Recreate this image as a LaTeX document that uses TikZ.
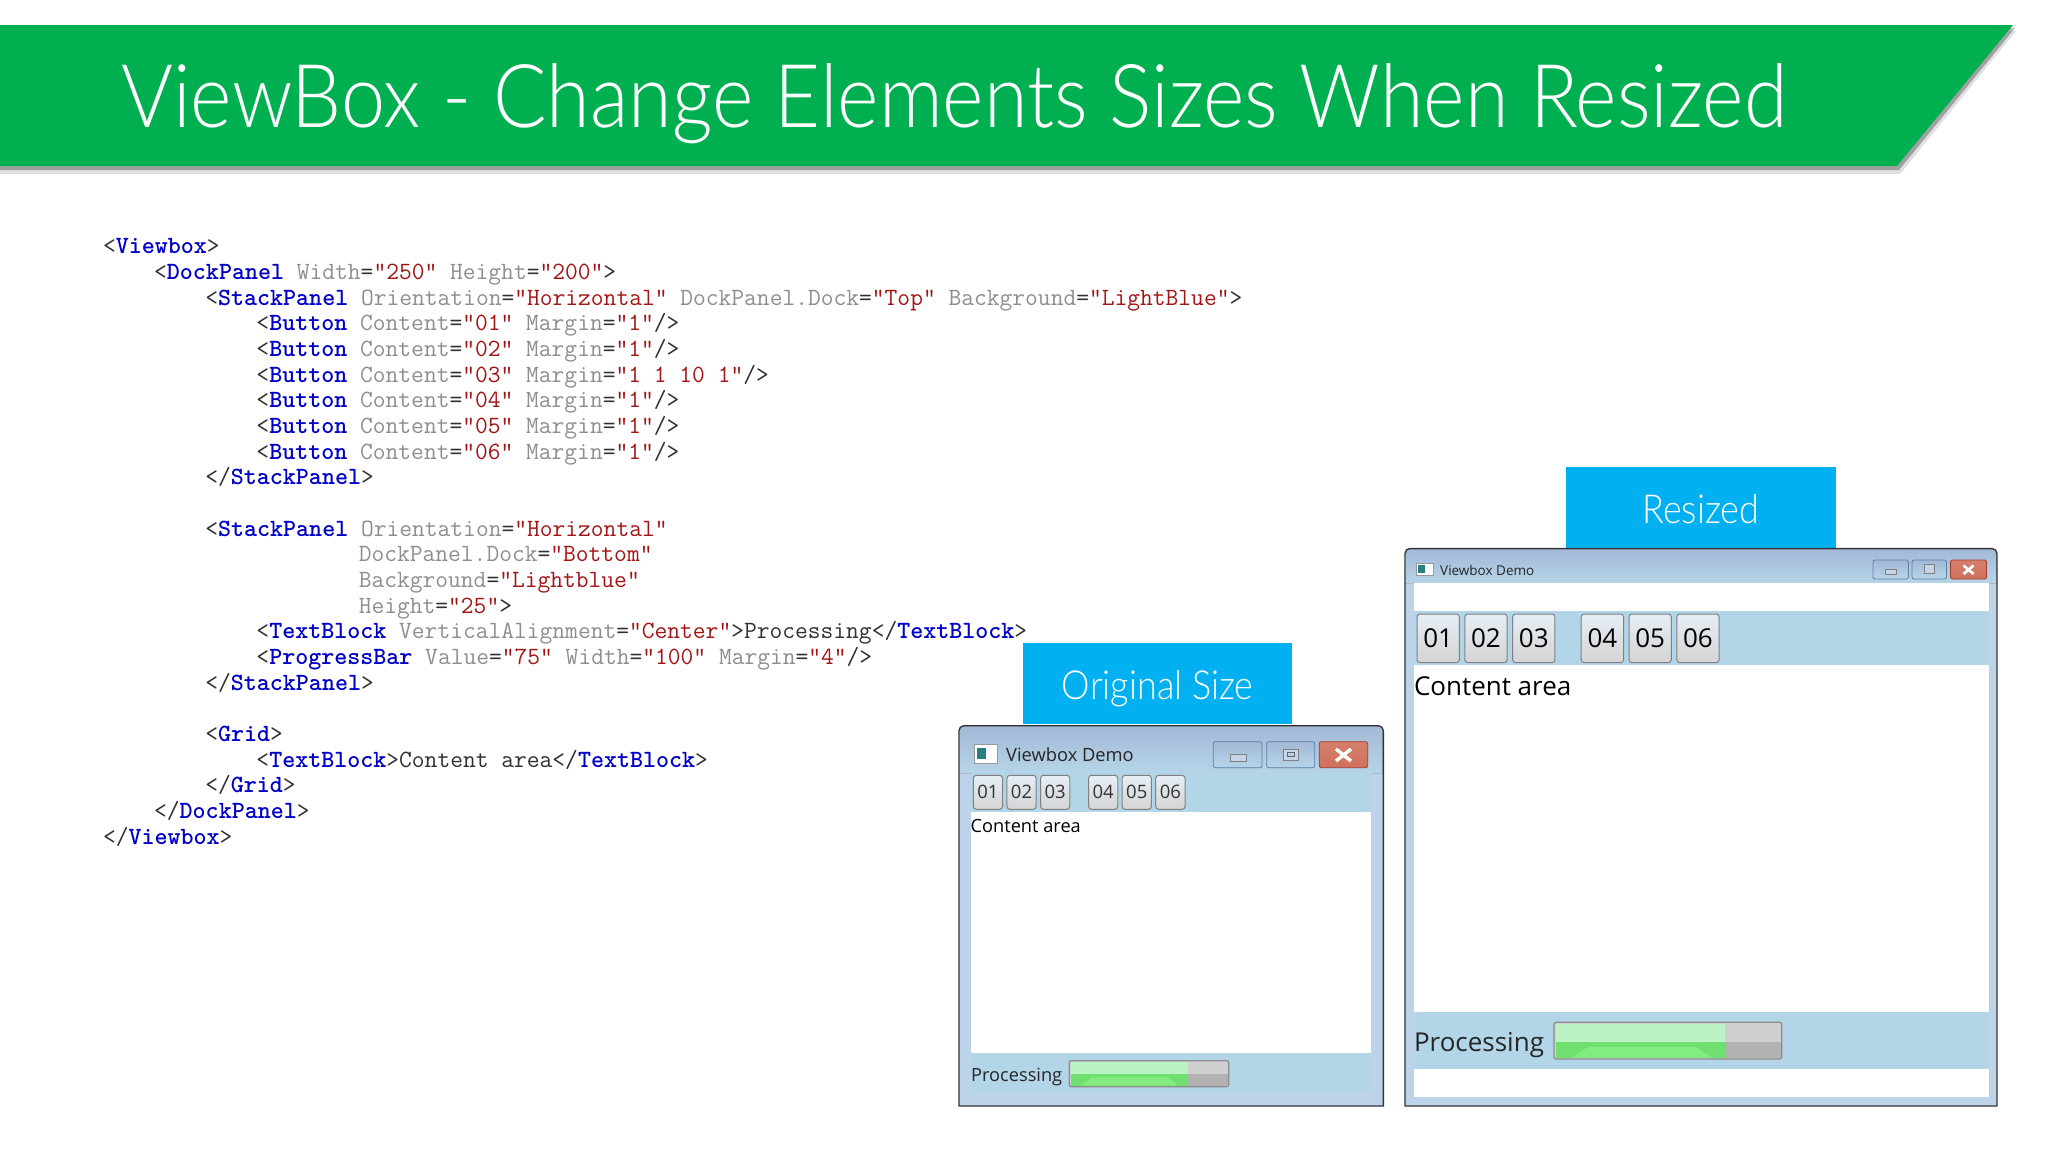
\documentclass[tikz,border=0pt]{standalone}
\usepackage{fontspec}
\newfontfamily\lightfont{Lato Light}[FakeStretch=0.9]
\newfontfamily\uifont{Open Sans}
\usetikzlibrary{positioning, chains}

\definecolor{bannergreen}{HTML}{00B050}
\definecolor{labelblue}{HTML}{00B0F0}
\definecolor{panelblue}{HTML}{B3D5E8}
\definecolor{framesky}{HTML}{BDD3EA}
\definecolor{titletop}{HTML}{A3B9D6}
\definecolor{titlebot}{HTML}{B6D5E8}
\definecolor{tagblue}{HTML}{0000C8}
\definecolor{attrgray}{HTML}{8E8E8E}
\definecolor{valred}{HTML}{A31515}
\definecolor{punct}{HTML}{303030}
\definecolor{btntop}{HTML}{E6EEF6}
\definecolor{btnbot}{HTML}{D4D4D4}
\definecolor{closeedge}{HTML}{A8392A}
\definecolor{closetop}{HTML}{D4806C}
\definecolor{closemid}{HTML}{B9491E}
\definecolor{closebot}{HTML}{D0705C}
\definecolor{chromeedge}{HTML}{5F7FA6}
\definecolor{glyphfill}{HTML}{C6D6E8}
\definecolor{barlight}{HTML}{BBF3C4}
\definecolor{barmid}{HTML}{6FE06F}
\definecolor{barhigh}{HTML}{82EC82}

\newcommand{\xname}[1]{\textcolor{tagblue}{\bfseries #1}}
\newcommand{\xattr}[1]{\textcolor{attrgray}{#1}}
\newcommand{\xval}[1]{\textcolor{valred}{#1}}
\newcommand{\ind}[1]{\hspace*{#1\dimexpr12.79pt\relax}}

\tikzset{
	codeline/.style={anchor=north west, inner sep=0pt, outer sep=0pt, text height=19pt, text depth=6.67pt, text=punct, font=\fontsize{24.8}{26}\selectfont\ttfamily},
	labelbox/.style={fill=labelblue, text=white, inner sep=0pt, text height=32pt, text depth=0pt, font=\fontsize{40}{42}\selectfont\lightfont},
	winframe/.style={draw=black!80, line width=1.4pt, fill=framesky},
	winbtn/.style={draw=black!50, line width=1pt, rounded corners=3pt, top color=btntop, bottom color=btnbot, inner sep=0pt, outer sep=0pt, anchor=north west, on chain},
	chromebtn/.style={draw=chromeedge, line width=.8pt, rounded corners=2pt, top color=titletop, bottom color=titlebot, inner sep=0pt, outer sep=0pt, anchor=north west},
	closebtn/.style={chromebtn, draw=closeedge, top color=closetop, middle color=closemid, bottom color=closebot},
	bartrack/.style={draw=black!45, line width=1.2pt, rounded corners=2pt, inner sep=0pt, outer sep=0pt, anchor=north west, fill=black!18}
}

\begin{document}
\begin{tikzpicture}[x=1pt, y=-1pt]
	\useasboundingbox (0,0) rectangle (2048,1152);
	\fill[white] (0,0) rectangle (2048,1152);

	\fill[black, opacity=.12] (0,31) -- (2016,31) -- (1900,174) -- (0,174) -- cycle;
	\fill[black, opacity=.28] (0,28) -- (2015,28) -- (1899,170) -- (0,170) -- cycle;
	\fill[bannergreen] (0,25) -- (2013,25) -- (1897,166) -- (0,166) -- cycle;
	\node[anchor=west, inner sep=0pt, text=white, font=\fontsize{88}{90}\selectfont\lightfont] (title) at (121,104) {ViewBox - Change Elements Sizes When Resized};

	\node[codeline] (c1) at (103,234.8) {<\xname{Viewbox}>};
	\node[codeline] (c2) at (c1.south west) {\ind{4}<\xname{DockPanel} \xattr{Width}=\xval{"250"} \xattr{Height}=\xval{"200"}>};
	\node[codeline] (c3) at (c2.south west) {\ind{8}<\xname{StackPanel} \xattr{Orientation}=\xval{"Horizontal"} \xattr{DockPanel.Dock}=\xval{"Top"} \xattr{Background}=\xval{"LightBlue"}>};
	\node[codeline] (c4) at (c3.south west) {\ind{12}<\xname{Button} \xattr{Content}=\xval{"01"} \xattr{Margin}=\xval{"1"}/>};
	\node[codeline] (c5) at (c4.south west) {\ind{12}<\xname{Button} \xattr{Content}=\xval{"02"} \xattr{Margin}=\xval{"1"}/>};
	\node[codeline] (c6) at (c5.south west) {\ind{12}<\xname{Button} \xattr{Content}=\xval{"03"} \xattr{Margin}=\xval{"1 1 10 1"}/>};
	\node[codeline] (c7) at (c6.south west) {\ind{12}<\xname{Button} \xattr{Content}=\xval{"04"} \xattr{Margin}=\xval{"1"}/>};
	\node[codeline] (c8) at (c7.south west) {\ind{12}<\xname{Button} \xattr{Content}=\xval{"05"} \xattr{Margin}=\xval{"1"}/>};
	\node[codeline] (c9) at (c8.south west) {\ind{12}<\xname{Button} \xattr{Content}=\xval{"06"} \xattr{Margin}=\xval{"1"}/>};
	\node[codeline] (c10) at (c9.south west) {\ind{8}</\xname{StackPanel}>};
	\node[codeline, yshift=-25.67pt] (c12) at (c10.south west) {\ind{8}<\xname{StackPanel} \xattr{Orientation}=\xval{"Horizontal"}};
	\node[codeline] (c13) at (c12.south west) {\ind{20}\xattr{DockPanel.Dock}=\xval{"Bottom"}};
	\node[codeline] (c14) at (c13.south west) {\ind{20}\xattr{Background}=\xval{"Lightblue"}};
	\node[codeline] (c15) at (c14.south west) {\ind{20}\xattr{Height}=\xval{"25"}>};
	\node[codeline] (c16) at (c15.south west) {\ind{12}<\xname{TextBlock} \xattr{VerticalAlignment}=\xval{"Center"}>Processing</\xname{TextBlock}>};
	\node[codeline] (c17) at (c16.south west) {\ind{12}<\xname{ProgressBar} \xattr{Value}=\xval{"75"} \xattr{Width}=\xval{"100"} \xattr{Margin}=\xval{"4"}/>};
	\node[codeline] (c18) at (c17.south west) {\ind{8}</\xname{StackPanel}>};
	\node[codeline, yshift=-25.67pt] (c20) at (c18.south west) {\ind{8}<\xname{Grid}>};
	\node[codeline] (c21) at (c20.south west) {\ind{12}<\xname{TextBlock}>Content area</\xname{TextBlock}>};
	\node[codeline] (c22) at (c21.south west) {\ind{8}</\xname{Grid}>};
	\node[codeline] (c23) at (c22.south west) {\ind{4}</\xname{DockPanel}>};
	\node[codeline] (c24) at (c23.south west) {</\xname{Viewbox}>};

	% original window
	\node[labelbox, minimum width=269pt, minimum height=81.3pt, anchor=north west] (origlabel) at (1023,642.7) {Original Size};
	\draw[winframe] (959,1106) [rounded corners=5pt] -- (959,725.7) -- (1383.3,725.7) [sharp corners] -- (1383.3,1106) -- cycle;
	\fill[top color=titletop, bottom color=titlebot, rounded corners=4pt] (960,773) -- (960,726.6) -- (1382.4,726.6) [sharp corners] -- (1382.4,773) -- cycle;
	\fill[panelblue] (971.3,773) rectangle (1371.3,812);
	\fill[white] (971.3,812) rectangle (1371.3,1053.3);
	\fill[panelblue] (971.3,1053.3) rectangle (1371.3,1091.7);
	\draw[draw=black!40, fill=white] (974,744) rectangle (997.3,762.7);
	\fill[teal!70!gray] (977,747.5) rectangle (986,759);
	\node[anchor=west, inner sep=0pt, text=black!85, font=\fontsize{18.3}{20}\selectfont\uifont] (origtitle) at (1006,755) {Viewbox Demo};
	\node[chromebtn, minimum width=48.7pt, minimum height=26pt] (origmin) at (1213.3,741.7) {};
	\node[chromebtn, minimum width=48pt, minimum height=26pt] (origmax) at (1266.7,741.7) {};
	\node[closebtn, minimum width=48.4pt, minimum height=26pt] (origclose) at (1319.3,741.7) {};
	\draw[black!50, fill=glyphfill] (1230,754.5) rectangle (1246,761.5);
	\draw[black!50, line width=1pt, fill=glyphfill] (1283,749) rectangle (1298.5,760);
	\draw[black!60, fill=titlebot] (1287,752.5) rectangle (1294.5,756.5);
	\draw[white, line width=3.4pt] (1336,749) -- (1351,761) (1351,749) -- (1336,761);
	\begin{scope}[start chain=orig going right, node distance=4.3pt, every node/.style={winbtn, minimum width=29.3pt, minimum height=34pt, text=black!80, font=\fontsize{18.5}{20}\selectfont\uifont}]
		\node (oa) at (973.3,775.3) {01};
		\node (ob) {02};
		\node (oc) {03};
		\node[xshift=14.4pt] (od) {04};
		\node (oe) {05};
		\node (of) {06};
	\end{scope}
	\node[anchor=west, inner sep=0pt, font=\fontsize{18.2}{20}\selectfont\uifont] (origcontent) at (970.5,826) {Content area};
	\node[anchor=west, inner sep=0pt, text=black!85, font=\fontsize{18.2}{20}\selectfont\uifont] (origproc) at (971,1076.5) {Processing};
	\node[bartrack, minimum width=159.4pt, minimum height=26pt] (origbar) at (1069.3,1060.7) {};
	\fill[barlight] (1070.5,1062) rectangle (1188,1073.7);
	\fill[barmid] (1070.5,1073.7) rectangle (1188,1085.6);
	\fill[barhigh] (1082,1085.6) -- (1092,1077) -- (1168,1077) -- (1178,1085.6) -- cycle;
	\fill[black!19] (1188,1062) rectangle (1227.6,1073.7);
	\fill[black!30] (1188,1073.7) rectangle (1227.6,1085.6);

	% resized window
	\node[labelbox, minimum width=270pt, minimum height=81.3pt, anchor=north west] (sizedlabel) at (1565.7,466.7) {Resized};
	\draw[winframe] (1405,1106) [rounded corners=5pt] -- (1405,548.5) -- (1997,548.5) [sharp corners] -- (1997,1106) -- cycle;
	\fill[top color=titletop, bottom color=titlebot, rounded corners=4pt] (1406,583) -- (1406,549.4) -- (1996,549.4) [sharp corners] -- (1996,583) -- cycle;
	\fill[white] (1414,583) rectangle (1988.5,611);
	\fill[panelblue] (1414,611) rectangle (1988.5,665);
	\fill[white] (1414,665) rectangle (1988.5,1012.3);
	\fill[panelblue] (1414,1012.3) rectangle (1988.5,1069.3);
	\fill[white] (1414,1069.3) rectangle (1988.5,1097.3);
	\draw[draw=black!40, fill=white] (1416,563) rectangle (1433,575);
	\fill[teal!70!gray] (1418,565) rectangle (1424.5,573);
	\node[anchor=west, inner sep=0pt, text=black!85, font=\fontsize{13.5}{15}\selectfont\uifont] (sizedtitle) at (1440,570) {Viewbox Demo};
	\node[chromebtn, minimum width=35.4pt, minimum height=19pt] (sizedmin) at (1873,560) {};
	\node[chromebtn, minimum width=34.5pt, minimum height=19pt] (sizedmax) at (1912,560) {};
	\node[closebtn, minimum width=36pt, minimum height=19pt] (sizedclose) at (1950.5,560) {};
	\draw[black!50, fill=glyphfill] (1885.5,569) rectangle (1896.5,574);
	\draw[black!50, fill=glyphfill] (1924,564.5) rectangle (1934.5,573);
	\draw[white, line width=2.6pt] (1963.5,565.5) -- (1973.5,574) (1973.5,565.5) -- (1963.5,574);
	\begin{scope}[start chain=sized going right, node distance=5.5pt, every node/.style={winbtn, minimum width=42.3pt, minimum height=48.7pt, font=\fontsize{26}{28}\selectfont\uifont}]
		\node (sa) at (1417,614) {01};
		\node (sb) {02};
		\node (sc) {03};
		\node[xshift=20.8pt] (sd) {04};
		\node (se) {05};
		\node (sf) {06};
	\end{scope}
	\node[anchor=west, inner sep=0pt, font=\fontsize{26}{28}\selectfont\uifont] (sizedcontent) at (1413.8,686) {Content area};
	\node[anchor=west, inner sep=0pt, text=black!85, font=\fontsize{26}{28}\selectfont\uifont] (sizedproc) at (1413.8,1045) {Processing};
	\node[bartrack, minimum width=227.7pt, minimum height=36.7pt] (sizedbar) at (1554,1022.3) {};
	\fill[barlight] (1555.5,1024) rectangle (1725.4,1042);
	\fill[barmid] (1555.5,1042) rectangle (1725.4,1057.7);
	\fill[barhigh] (1572,1057.7) -- (1588,1047) -- (1696,1047) -- (1712,1057.7) -- cycle;
	\fill[black!19] (1725.4,1024) rectangle (1780.5,1042);
	\fill[black!30] (1725.4,1042) rectangle (1780.5,1057.7);
\end{tikzpicture}
\end{document}
